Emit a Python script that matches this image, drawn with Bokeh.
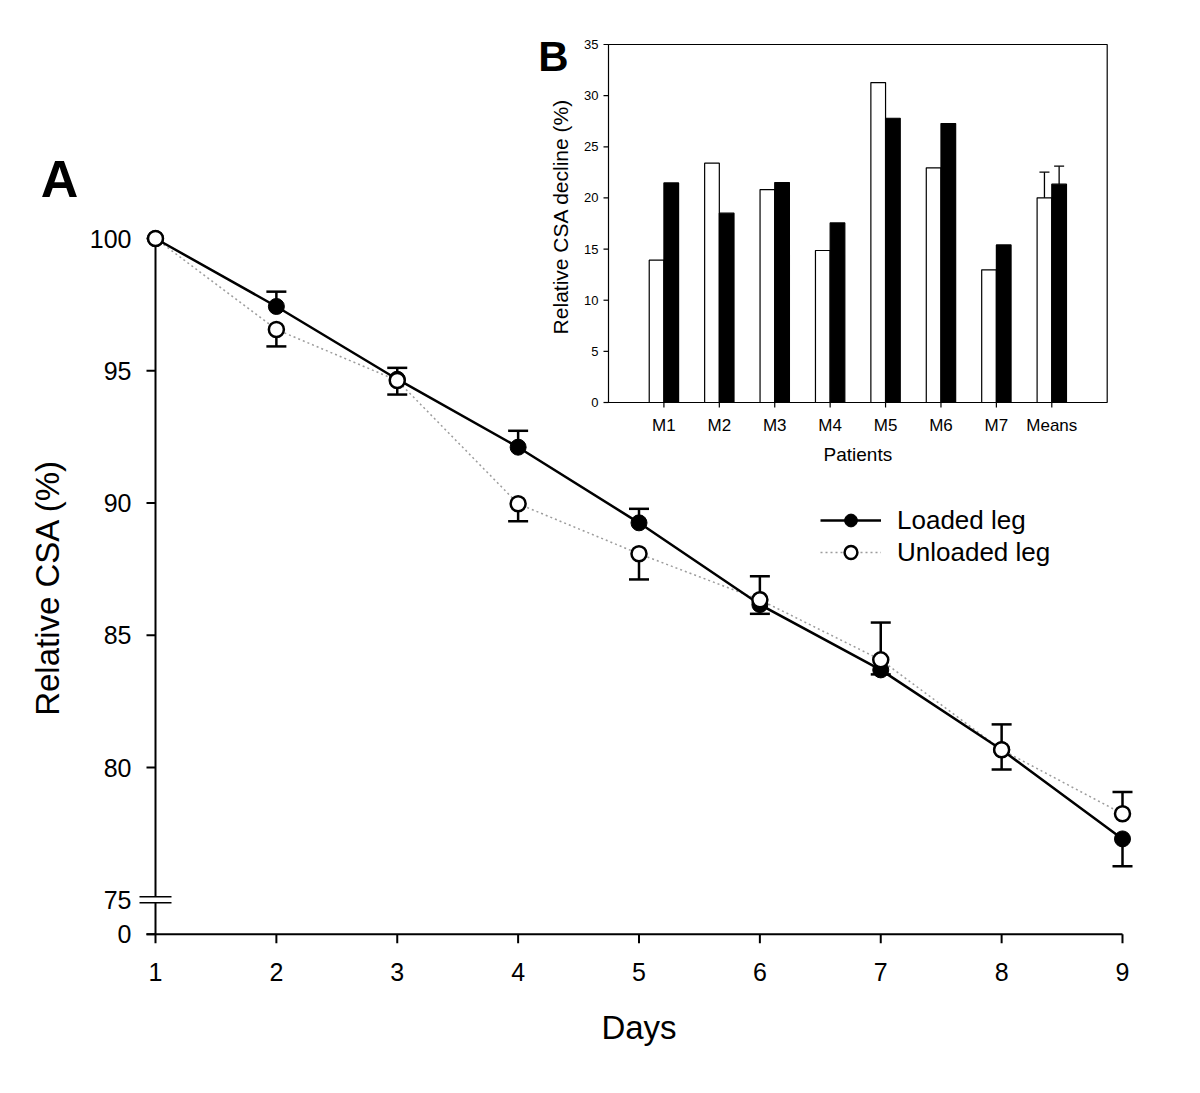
import math
from bokeh.plotting import figure
from bokeh.layouts import row
from bokeh.models import (Range1d, FixedTicker, Legend, LegendItem, ColumnDataSource)
from bokeh.core.properties import value
from bokeh.embed import file_html
from bokeh.resources import INLINE

# ---------------- data: panel A ----------------
days = [1, 2, 3, 4, 5, 6, 7, 8, 9]
loaded_mean = [100.0, 97.43, 94.68, 92.11, 89.25, 86.16, 83.69, 80.67, 77.30]
loaded_sem = [0.0, 0.56, 0.43, 0.62, 0.53, 0.35, 0.17, 0.75, 1.03]
loaded_err_dir = [1, 1, 1, 1, 1, -1, -1, -1, -1]
unloaded_mean = [100.0, 96.56, 94.63, 89.97, 88.08, 86.34, 84.07, 80.67, 78.25]
unloaded_sem = [0.0, 0.64, 0.53, 0.66, 0.97, 0.89, 1.41, 0.96, 0.82]
unloaded_err_dir = [1, -1, -1, -1, -1, 1, 1, 1, 1]
y_ticks = [75, 80, 85, 90, 95, 100]
axis_break_value = 75
zero_label = "0"

# ---------------- data: panel B ----------------
patients = ["M1", "M2", "M3", "M4", "M5", "M6", "M7", "Means"]
unloaded_decline = [13.91, 23.40, 20.82, 14.86, 31.28, 22.94, 12.97, 20.01]
loaded_decline = [21.47, 18.51, 21.51, 17.56, 27.79, 27.27, 15.41, 21.34]
unloaded_decline_err = [0, 0, 0, 0, 0, 0, 0, 2.51]
loaded_decline_err = [0, 0, 0, 0, 0, 0, 0, 1.76]
inset_y_ticks = [0, 5, 10, 15, 20, 25, 30, 35]

FONT = "Liberation Sans"

# ---------------- layout (page pixels) ----------------
H = 1085
LEFT_W = 82          # narrow strip holding "A" and the y-axis title
MAIN_W = 1106
FRAME_L, FRAME_R, FRAME_T, FRAME_B = 134, 1143, 30, 950
DAY1_PX, DAY_STEP = 155, 120.875
Y100_PX, PCT_STEP = 238, 26.45
BRK = 73.7  # position of the "0" tick below the axis break


def mx(px):
    return days[0] + (px - DAY1_PX) / DAY_STEP


def my(py):
    return 100 - (py - Y100_PX) / PCT_STEP


INSET_L, INSET_R, INSET_0, INSET_TOP = 608, 1106.7, 402, 44
NCAT = len(patients) + 1
ISTEP_X = (INSET_R - INSET_L) / NCAT
ISTEP_Y = (INSET_0 - INSET_TOP) / inset_y_ticks[-1]


def ix(px):
    return (px - INSET_L) / ISTEP_X


def iy(py):
    return (INSET_0 - py) / ISTEP_Y


# ---------------- left strip: panel letter A and y-axis title ----------------
# (its frame is aligned with the main frame by the row layout, so use the same borders)
left = figure(width=LEFT_W, height=H, output_backend="svg", toolbar_location=None,
              x_range=Range1d(0, LEFT_W), y_range=Range1d(H - FRAME_B, H - FRAME_T),
              x_axis_type=None, y_axis_type=None,
              min_border_left=0, min_border_right=0,
              min_border_top=FRAME_T, min_border_bottom=H - FRAME_B)
left.grid.visible = False
left.outline_line_color = None
left.text(x=[59], y=[H - 178], text=["A"], text_align="center", text_baseline="middle",
          text_font=value(FONT), text_font_size="52px", text_font_style="bold",
          text_color="black")
left.text(x=[47], y=[H - 587], text=["Relative CSA (%)"], angle=math.pi / 2,
          text_align="center", text_baseline="middle", text_font=value(FONT),
          text_font_size="33px", text_color="black")

# ---------------- main figure ----------------
p = figure(width=MAIN_W, height=H, output_backend="svg", toolbar_location=None,
           x_range=Range1d(mx(FRAME_L), mx(FRAME_R)),
           y_range=Range1d(my(FRAME_B), my(FRAME_T)),
           min_border_left=FRAME_L - LEFT_W,
           min_border_right=LEFT_W + MAIN_W - FRAME_R,
           min_border_top=FRAME_T, min_border_bottom=H - FRAME_B)
p.extra_x_ranges = {"ix": Range1d(ix(FRAME_L), ix(FRAME_R))}
p.extra_y_ranges = {"iy": Range1d(iy(FRAME_B), iy(FRAME_T))}
p.grid.visible = False
p.outline_line_color = None
p.background_fill_color = "white"
p.border_fill_color = "white"

# ---- Bokeh axes (labels only; lines drawn below) ----
xa = p.xaxis[0]
xa.ticker = FixedTicker(ticks=days)
xa.axis_line_color = None
xa.major_tick_line_color = None
xa.minor_tick_line_color = None
xa.major_tick_in = 0
xa.major_tick_out = 0
xa.major_label_standoff = 12
xa.major_label_text_font = FONT
xa.major_label_text_font_size = "25px"
xa.major_label_text_color = "black"
xa.axis_label = "Days"
xa.axis_label_text_font = FONT
xa.axis_label_text_font_size = "33px"
xa.axis_label_text_font_style = "normal"
xa.axis_label_text_color = "black"
xa.axis_label_standoff = 25

ya = p.yaxis[0]
ya.ticker = FixedTicker(ticks=[BRK] + y_ticks)
ya.major_label_overrides = {BRK: zero_label}
ya.axis_line_color = None
ya.major_tick_line_color = None
ya.minor_tick_line_color = None
ya.major_tick_in = 0
ya.major_tick_out = 0
ya.major_label_standoff = 3
ya.major_label_text_font = FONT
ya.major_label_text_font_size = "25px"
ya.major_label_text_color = "black"

# ---- axis lines, ticks and break marks of panel A ----
x_axis_pos = days[0]
gap = 3 / PCT_STEP
p.segment(x0=[x_axis_pos, x_axis_pos], y0=[BRK, axis_break_value + gap],
          x1=[x_axis_pos, x_axis_pos], y1=[axis_break_value - gap, y_ticks[-1]],
          line_color="black", line_width=2)
bh = 16 / DAY_STEP
p.segment(x0=[x_axis_pos - bh] * 2, y0=[axis_break_value - gap, axis_break_value + gap],
          x1=[x_axis_pos + bh] * 2, y1=[axis_break_value - gap, axis_break_value + gap],
          line_color="black", line_width=1.5)
tl = 9 / DAY_STEP
yt = [BRK] + [t for t in y_ticks if t != axis_break_value]
p.segment(x0=[x_axis_pos - tl] * len(yt), y0=yt, x1=[x_axis_pos] * len(yt), y1=yt,
          line_color="black", line_width=2)
p.segment(x0=[x_axis_pos - tl], y0=[BRK], x1=[days[-1]], y1=[BRK],
          line_color="black", line_width=2)
tly = 9 / PCT_STEP
p.segment(x0=days, y0=[BRK] * len(days), x1=days, y1=[BRK - tly] * len(days),
          line_color="black", line_width=2)

# ---- series ----
src = ColumnDataSource(dict(day=days, lm=loaded_mean, um=unloaded_mean))
r_ul = p.line("day", "um", source=src, line_color="#9c9c9c", line_width=1.5, line_dash="2 3")
r_ll = p.line("day", "lm", source=src, line_color="black", line_width=2.5)

cap = 10 / DAY_STEP
for mean, sem, dr in ((loaded_mean, loaded_sem, loaded_err_dir),
                      (unloaded_mean, unloaded_sem, unloaded_err_dir)):
    xs = [d for d, s in zip(days, sem) if s > 0]
    y0 = [m for m, s in zip(mean, sem) if s > 0]
    y1 = [m + k * s for m, s, k in zip(mean, sem, dr) if s > 0]
    p.segment(x0=xs, y0=y0, x1=xs, y1=y1, line_color="black", line_width=2.5)
    p.segment(x0=[x - cap for x in xs], y0=y1, x1=[x + cap for x in xs], y1=y1,
              line_color="black", line_width=2.5)

r_lm = p.scatter("day", "lm", source=src, size=16, marker="circle",
                 fill_color="black", line_color="black", line_width=1)
r_um = p.scatter("day", "um", source=src, size=15, marker="circle",
                 fill_color="white", line_color="black", line_width=2.5)

legend = Legend(items=[LegendItem(label="Loaded leg", renderers=[r_ll, r_lm]),
                       LegendItem(label="Unloaded leg", renderers=[r_ul, r_um])],
                location=(820 - FRAME_L, FRAME_B - 568),
                border_line_color=None, background_fill_alpha=0,
                padding=0, margin=0, spacing=0,
                glyph_width=61, glyph_height=32, label_height=32,
                label_standoff=16, label_text_font=FONT,
                label_text_font_size="26px", label_text_color="black")
p.add_layout(legend)

# ---------------- panel B (inset) ----------------
ir = dict(x_range_name="ix", y_range_name="iy")
cats = list(range(1, len(patients) + 1))
BW = 0.265
p.quad(left=[0], right=[NCAT], bottom=[inset_y_ticks[0]], top=[inset_y_ticks[-1]],
       fill_color=None, line_color="black", line_width=1.2, **ir)
p.vbar(x=[c - BW / 2 for c in cats], width=BW, top=unloaded_decline, bottom=0,
       fill_color="white", line_color="black", line_width=1.2, **ir)
p.vbar(x=[c + BW / 2 for c in cats], width=BW, top=loaded_decline, bottom=0,
       fill_color="black", line_color="black", line_width=1.2, **ir)

icap = 5 / ISTEP_X
for off, vals, errs in ((-BW / 2, unloaded_decline, unloaded_decline_err),
                        (BW / 2, loaded_decline, loaded_decline_err)):
    xs = [c + off for c, e in zip(cats, errs) if e > 0]
    y0 = [v for v, e in zip(vals, errs) if e > 0]
    y1 = [v + e for v, e in zip(vals, errs) if e > 0]
    p.segment(x0=xs, y0=y0, x1=xs, y1=y1, line_color="black", line_width=1.3, **ir)
    p.segment(x0=[x - icap for x in xs], y0=y1, x1=[x + icap for x in xs], y1=y1,
              line_color="black", line_width=1.3, **ir)

itl = 5 / ISTEP_X
p.segment(x0=[-itl] * len(inset_y_ticks), y0=inset_y_ticks, x1=[0] * len(inset_y_ticks),
          y1=inset_y_ticks, line_color="black", line_width=1.2, **ir)
itly = 5 / ISTEP_Y
p.segment(x0=cats, y0=[0] * len(cats), x1=cats, y1=[-itly] * len(cats),
          line_color="black", line_width=1.2, **ir)

p.text(x=[ix(598)] * len(inset_y_ticks), y=inset_y_ticks,
       text=[str(t) for t in inset_y_ticks], text_align="right", text_baseline="middle",
       text_font=value(FONT), text_font_size="13px", text_color="black", **ir)
p.text(x=cats, y=[iy(425)] * len(cats), text=patients, text_align="center",
       text_baseline="middle", text_font=value(FONT), text_font_size="17px",
       text_color="black", **ir)
p.text(x=[NCAT / 2], y=[iy(454)], text=["Patients"], text_align="center",
       text_baseline="middle", text_font=value(FONT), text_font_size="19px",
       text_color="black", **ir)
p.text(x=[ix(560)], y=[iy(216)], text=["Relative CSA decline (%)"], angle=math.pi / 2,
       text_align="center", text_baseline="middle", text_font=value(FONT),
       text_font_size="21px", text_color="black", **ir)
p.text(x=[ix(553)], y=[iy(56)], text=["B"], text_align="center", text_baseline="middle",
       text_font=value(FONT), text_font_size="42px", text_font_style="bold",
       text_color="black", **ir)

layout = row(left, p, spacing=0)
open("out.html", "w").write(file_html(layout, INLINE))
